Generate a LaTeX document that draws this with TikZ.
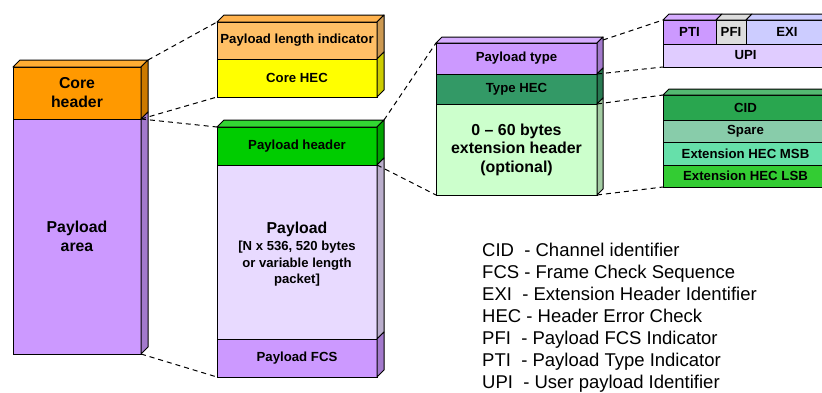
\documentclass[tikz,border=0pt]{standalone}
\usepackage{fontspec}
\setmainfont{Liberation Sans}
\usetikzlibrary{calc}
\definecolor{cOr}{HTML}{FF9900}
\definecolor{cOrT}{HTML}{FFAD33}
\definecolor{cOrS}{HTML}{CC7A00}
\definecolor{cPu}{HTML}{CC99FF}
\definecolor{cPuS}{HTML}{A37ACC}
\definecolor{cPuT}{HTML}{D6ADFF}
\definecolor{cLo}{HTML}{FFBF66}
\definecolor{cLoT}{HTML}{FFB24D}
\definecolor{cLoS}{HTML}{CC9952}
\definecolor{cYe}{HTML}{FFFF00}
\definecolor{cYeS}{HTML}{CCCC00}
\definecolor{cGr}{HTML}{00CC00}
\definecolor{cGrT}{HTML}{33D633}
\definecolor{cGrS}{HTML}{00A300}
\definecolor{cLv}{HTML}{E8DAFF}
\definecolor{cLvS}{HTML}{BAAECC}
\definecolor{cSg}{HTML}{339966}
\definecolor{cSgS}{HTML}{297A52}
\definecolor{cMi}{HTML}{CCFFCC}
\definecolor{cMiS}{HTML}{A3CCA3}
\definecolor{cGy}{HTML}{DDDDDD}
\definecolor{cPe}{HTML}{CCCCFF}
\definecolor{cUp}{HTML}{E0CCFF}
\definecolor{cCi}{HTML}{29A64F}
\definecolor{cCiT}{HTML}{54B872}
\definecolor{cSp}{HTML}{88CCAA}
\definecolor{cMs}{HTML}{66E0AA}
\definecolor{cLs}{HTML}{33CC33}
\newcommand\FtSmall{\fontsize{13.2}{15.5}\selectfont\bfseries}
\newcommand\FtBig{\fontsize{15.8}{19}\selectfont\bfseries}
\newcommand\FtSub{\fontsize{13.1}{16.5}\selectfont\bfseries}
\newcommand\FtExt{\fontsize{15.9}{18.5}\selectfont\bfseries}
\newcommand\FtLeg{\fontsize{18.5}{22}\selectfont}
\newcommand\TopF[3]{\filldraw[edge,fill=#2] (#1.north west) -- ++(#3) -- ($(#1.north east)+(#3)$) -- (#1.north east) -- cycle;}
\newcommand\SideF[3]{\filldraw[edge,fill=#2] (#1.north east) -- ++(#3) -- ($(#1.south east)+(#3)$) -- (#1.south east) -- cycle;}
\begin{document}
\begin{tikzpicture}[x=1pt,y=-1pt,
  face/.style={draw=black,line width=1pt,inner sep=0pt,outer sep=0pt,anchor=north west,align=center,font=\FtSmall},
  edge/.style={draw=black,line width=1pt,line join=round},
  conn/.style={draw=black,line width=1pt,dash pattern=on 5pt off 4pt},
  legend/.style={anchor=base west,font=\FtLeg,inner sep=0pt}]
\useasboundingbox (0,0) rectangle (822,392);

% ---- box 1
\node[face,fill=cOr,font=\FtBig,minimum width=128pt,minimum height=52pt] (ch) at (13,67) {Core\\header};
\node[face,fill=cPu,font=\FtBig,minimum width=128pt,minimum height=235pt] (pa) at (13,119) {Payload\\area};
\TopF{ch}{cOrT}{7,-7}
\SideF{ch}{cOrS}{7,-7}
\SideF{pa}{cPuS}{7,-7}

% ---- box 2
\node[face,fill=cLo,minimum width=160pt,minimum height=37pt] (pli) at (217,22) {Payload length indicator};
\node[face,fill=cYe,minimum width=160pt,minimum height=38pt] (chec) at (217,59) {Core HEC};
\TopF{pli}{cLoT}{7,-7}
\SideF{pli}{cLoS}{7,-7}
\SideF{chec}{cYeS}{7,-7}

% ---- box 3
\node[face,fill=cGr,minimum width=160pt,minimum height=38pt] (ph) at (217,127) {Payload header};
\node[face,fill=cLv,minimum width=160pt,minimum height=174pt] (pay) at (217,165) {};
\node[align=center,font=\FtSub,inner sep=0pt] (paytxt) at ($(pay.center)+(0,2.5)$)
  {{\FtBig Payload}\\[0.5pt]{[N x 536, 520 bytes}\\{or variable length}\\{packet]}};
\node[face,fill=cPu,minimum width=160pt,minimum height=38pt] (pfcs) at (217,339) {Payload FCS};
\TopF{ph}{cGrT}{7,-7}
\SideF{ph}{cGrS}{7,-7}
\SideF{pay}{cLvS}{7,-7}
\SideF{pfcs}{cPuS}{7,-7}

% ---- box 4
\node[face,fill=cPu,minimum width=161pt,minimum height=31pt] (pt) at (436,43) {Payload type};
\node[face,fill=cSg,minimum width=161pt,minimum height=30pt] (thec) at (436,74) {Type HEC};
\node[face,fill=cMi,font=\FtExt,minimum width=161pt,minimum height=91pt] (ext) at (436,104) {0 – 60 bytes\\extension header\\(optional)};
\TopF{pt}{cPuT}{6,-6}
\SideF{pt}{cPuS}{6,-6}
\SideF{thec}{cSgS}{6,-6}
\SideF{ext}{cMiS}{6,-6}

% ---- box 5
\node[face,fill=cPu,minimum width=53pt,minimum height=24pt] (pti) at (663,20) {PTI};
\node[face,fill=cGy,minimum width=30pt,minimum height=24pt] (pfi) at (716,20) {PFI};
\node[face,fill=cPe,minimum width=82pt,minimum height=24pt] (exi) at (746,20) {EXI};
\node[face,fill=cUp,minimum width=165pt,minimum height=23pt] (upi) at (663,44) {UPI};
\TopF{pti}{cPuT}{6,-6}
\TopF{pfi}{cGy}{6,-6}
\TopF{exi}{cPe}{6,-6}

% ---- box 6
\node[face,fill=cCi,minimum width=165pt,minimum height=25pt] (cid) at (663,95) {CID};
\node[face,fill=cSp,minimum width=165pt,minimum height=22pt] (spare) at (663,120) {Spare};
\node[face,fill=cMs,minimum width=165pt,minimum height=23pt] (msb) at (663,142) {Extension HEC MSB};
\node[face,fill=cLs,minimum width=165pt,minimum height=22pt] (lsb) at (663,165) {Extension HEC LSB};
\TopF{cid}{cCiT}{6,-6}

% ---- back corners
\coordinate (chB) at ($(ch.north east)+(7,-7)$);
\coordinate (phB) at ($(ph.north east)+(7,-7)$);
\coordinate (ptB) at ($(pt.north east)+(6,-3)$);

% ---- connectors
\draw[conn] (chB) -- (pli.north west);
\draw[conn] (ch.south east) -- (chec.south west);
\draw[conn] (ch.south east) -- (ph.north west);
\draw[conn] (pa.south east) -- (pfcs.south west);
\draw[conn] (phB) -- (pt.north west);
\draw[conn] (ph.south east) -- (ext.south west);
\draw[conn] (ptB) -- (pti.north west);
\draw[conn] (pt.south east) -- (upi.south west);
\draw[conn] (thec.south east) -- (cid.north west);
\draw[conn] (ext.south east) -- (lsb.south west);

% ---- legend
\node[legend] (l1) at (482,256) {CID\ \ - Channel identifier};
\node[legend] (l2) at (482,278.1) {FCS - Frame Check Sequence};
\node[legend] (l3) at (482,300.2) {EXI\ \ - Extension Header Identifier};
\node[legend] (l4) at (482,322.4) {HEC - Header Error Check};
\node[legend] (l5) at (482,344.5) {PFI\ \ - Payload FCS Indicator};
\node[legend] (l6) at (482,366.6) {PTI\ \ - Payload Type Indicator};
\node[legend] (l7) at (482,388.7) {UPI\ \ - User payload Identifier};
\end{tikzpicture}
\end{document}
